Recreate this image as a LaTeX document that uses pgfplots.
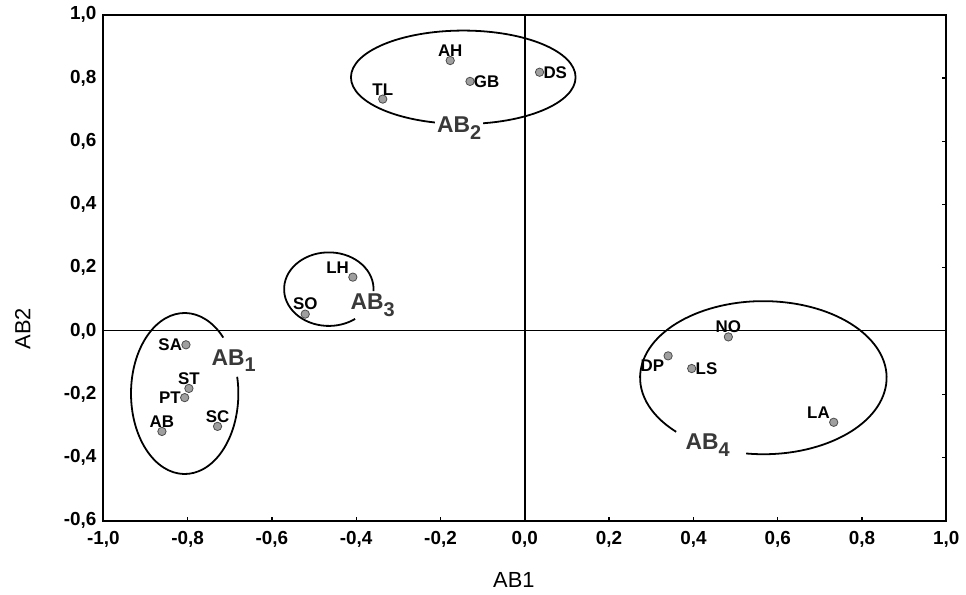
\documentclass[border=0pt]{standalone}
\usepackage{pgfplots}
\pgfplotsset{compat=1.18}
\usepackage{fontspec}
\setmainfont{Liberation Sans}

\newcommand{\grp}[1]{AB\raisebox{-0.55ex}{\fontsize{10}{10}\selectfont #1}}

\begin{document}
\begin{tikzpicture}
\begin{axis}[
  scale only axis, width=424pt, height=254.5pt,
  xmin=-1, xmax=1, ymin=-0.6, ymax=1.0,
  clip=false,
  axis line style={line width=1.1pt},
  xtick={-1,-0.8,-0.6,-0.4,-0.2,0,0.2,0.4,0.6,0.8,1},
  ytick={-0.6,-0.4,-0.2,0,0.2,0.4,0.6,0.8,1},
  tick align=inside, major tick length=2pt,
  xtick pos=bottom, ytick pos=right,
  tick style={line width=0.6pt, black},
  ticklabel style={font=\bfseries\fontsize{9.5}{11}\selectfont},
  yticklabel pos=left,
  /pgf/number format/.cd, use comma, fixed, fixed zerofill, precision=1, assume math mode=true,
  /pgfplots/.cd,
  xticklabel style={yshift=-2pt},
  xlabel={AB1}, ylabel={AB2},
  label style={font=\fontsize{11}{13}\selectfont},
  xlabel style={at={(rel axis cs:0.487,-0.118)}, anchor=center},
  ylabel style={at={(rel axis cs:-0.0955,0.379)}, anchor=center},
  pts/.style={only marks, mark=*, mark size=2.1pt,
    mark options={fill=gray!75, draw=gray!60!black, line width=0.4pt},
    point meta=explicit symbolic, nodes near coords,
    nodes near coords style={anchor=#1, inner sep=1.8pt,
      font=\bfseries\fontsize{8.5}{10}\selectfont, text=black}},
]
\path (rel axis cs:-0.1226,-0.1395) rectangle (rel axis cs:1.0165,1.0275);

\draw[line width=0.5pt] (axis cs:-1,0) -- (axis cs:1,0);
\draw[line width=1.1pt] (axis cs:0,-0.6) -- (axis cs:0,1);

% ellipses
\draw[line width=0.9pt] (axis cs:-0.146,0.802) ellipse [x radius=56.5pt, y radius=23.5pt];
\draw[line width=0.9pt] ([shift={(44:27pt and 40.5pt)}]axis cs:-0.807,-0.198)
   arc[start angle=44, end angle=372, x radius=27pt, y radius=40.5pt];
\draw[line width=0.9pt] ([shift={(-3:22.5pt and 18.5pt)}]axis cs:-0.465,0.132)
   arc[start angle=-3, end angle=306, x radius=22.5pt, y radius=18.5pt];
\draw[line width=0.9pt] ([shift={(262:62pt and 38.5pt)}]axis cs:0.566,-0.148)
   arc[start angle=262, end angle=585, x radius=62pt, y radius=38.5pt];

\addplot[pts=south] coordinates {
 (-0.177,0.855) [AH]
 (-0.337,0.733) [TL]
 (-0.521,0.053) [SO]
 (-0.797,-0.182) [ST]
 (-0.861,-0.318) [AB]
 (-0.729,-0.302) [SC]
 (0.483,-0.019) [NO]
};
\addplot[pts=west] coordinates {
 (-0.130,0.789) [GB]
 (0.035,0.818) [DS]
 (0.396,-0.119) [LS]
};
\addplot[pts=east] coordinates {
 (-0.804,-0.044) [SA]
 (-0.807,-0.211) [PT]
};
\addplot[pts=south east] coordinates {
 (-0.408,0.170) [LH]
 (0.733,-0.289) [LA]
};
\addplot[pts=north east] coordinates {
 (0.340,-0.079) [DP]
};

% group labels
\tikzset{grplab/.style={fill=white, inner sep=1pt, text=gray!45!black,
   font=\bfseries\fontsize{11.5}{13}\selectfont}}
\node[grplab] at (axis cs:-0.156,0.642) {\grp{2}};
\node[grplab] at (axis cs:-0.691,-0.094) {\grp{1}};
\node[grplab] at (axis cs:-0.361,0.082) {\grp{3}};
\node[grplab] at (axis cs:0.434,-0.362) {\grp{4}};
\end{axis}
\end{tikzpicture}
\end{document}
